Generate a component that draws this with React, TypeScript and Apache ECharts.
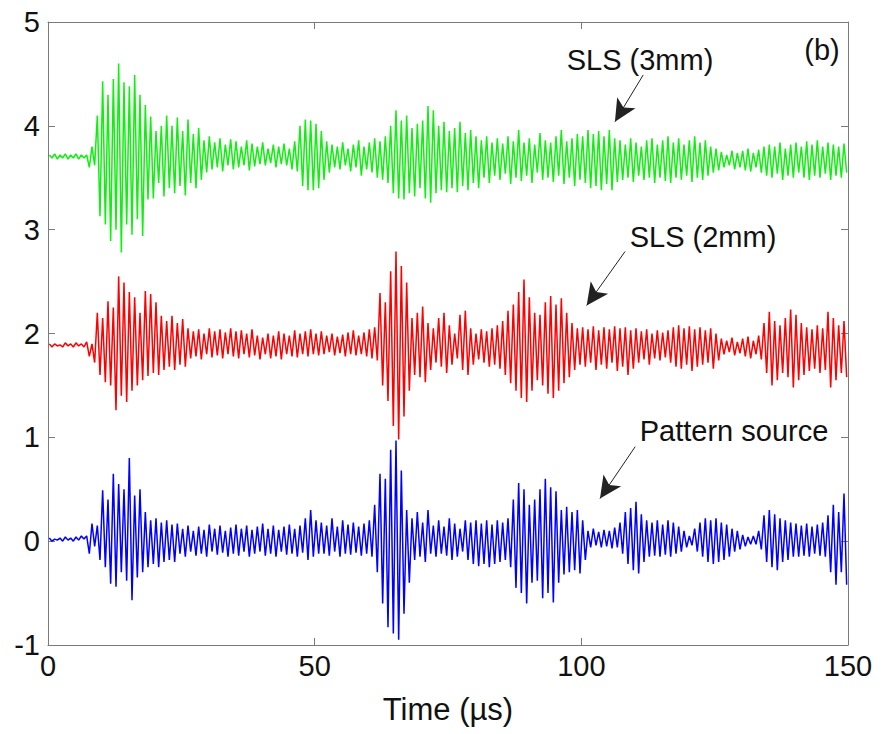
import React, { useEffect, useRef } from "react";
import * as echarts from "echarts";

// Time axis: one oscillation per microsecond, t = 0 .. 149
// Upper and lower peak values for each microsecond.
const greenHi = [
  3.72, 3.73, 3.72, 3.73, 3.72, 3.73, 3.72, 3.72, 3.80, 4.10,
  4.43, 4.30, 4.45, 4.60, 4.42, 4.38, 4.49, 4.30, 4.20, 4.09,
  3.95, 4.00, 4.10, 4.00, 4.08, 3.95, 4.06, 3.92, 3.98, 3.86,
  3.90, 3.84, 3.88, 3.82, 3.87, 3.85, 3.80, 3.86, 3.83, 3.80,
  3.84, 3.78, 3.82, 3.80, 3.83, 3.78, 3.85, 4.00, 4.06, 4.05,
  4.02, 3.95, 3.85, 3.82, 3.80, 3.84, 3.78, 3.82, 3.86, 3.80,
  3.84, 3.88, 3.85, 3.90, 4.00, 4.15, 4.05, 4.10, 3.98, 4.02,
  4.05, 4.19, 4.15, 4.00, 4.04, 3.95, 3.98, 4.04, 3.93, 3.96,
  3.90, 3.86, 3.90, 3.84, 3.88, 3.83, 3.90, 3.85, 3.96, 3.84,
  3.88, 3.82, 3.93, 3.86, 3.84, 3.90, 3.96, 3.85, 3.88, 3.92,
  3.90, 3.96, 3.92, 3.95, 3.90, 3.96, 3.88, 3.86, 3.82, 3.88,
  3.84, 3.80, 3.86, 3.88, 3.82, 3.86, 3.90, 3.84, 3.88, 3.82,
  3.86, 3.90, 3.84, 3.86, 3.80, 3.78, 3.75, 3.72, 3.76, 3.74,
  3.76, 3.78, 3.74, 3.77, 3.80, 3.82, 3.80, 3.84, 3.78, 3.82,
  3.84, 3.80, 3.85, 3.82, 3.86, 3.80, 3.84, 3.82, 3.80, 3.83,
];
const greenLo = [
  3.69, 3.68, 3.69, 3.68, 3.69, 3.68, 3.69, 3.60, 3.62, 3.13,
  3.05, 2.89, 3.00, 2.78, 3.05, 2.95, 3.10, 2.94, 3.29, 3.30,
  3.45, 3.32, 3.40, 3.35, 3.42, 3.33, 3.45, 3.40, 3.48, 3.55,
  3.58, 3.60, 3.56, 3.62, 3.58, 3.60, 3.62, 3.57, 3.61, 3.63,
  3.62, 3.64, 3.60, 3.63, 3.62, 3.58, 3.56, 3.42, 3.38, 3.38,
  3.40, 3.48, 3.55, 3.60, 3.58, 3.62, 3.56, 3.60, 3.52, 3.58,
  3.55, 3.50, 3.48, 3.45, 3.35, 3.30, 3.29, 3.35, 3.32, 3.40,
  3.30, 3.26, 3.35, 3.38, 3.36, 3.40, 3.36, 3.42, 3.38, 3.45,
  3.40, 3.50, 3.45, 3.52, 3.48, 3.54, 3.44, 3.50, 3.47, 3.52,
  3.45, 3.55, 3.48, 3.50, 3.46, 3.52, 3.44, 3.50, 3.42, 3.48,
  3.45, 3.40, 3.42, 3.38, 3.44, 3.38, 3.46, 3.48, 3.50, 3.46,
  3.52, 3.48, 3.50, 3.45, 3.50, 3.47, 3.45, 3.50, 3.48, 3.52,
  3.46, 3.50, 3.48, 3.52, 3.55, 3.57, 3.60, 3.62, 3.58, 3.60,
  3.57, 3.56, 3.60, 3.55, 3.52, 3.50, 3.54, 3.48, 3.52, 3.50,
  3.55, 3.50, 3.48, 3.52, 3.50, 3.54, 3.48, 3.52, 3.50, 3.55,
];
const redHi = [
  1.90, 1.90, 1.89, 1.91, 1.90, 1.91, 1.90, 1.92, 1.90, 2.20,
  2.15, 2.31, 2.25, 2.55, 2.49, 2.40, 2.35, 2.20, 2.41, 2.38,
  2.30, 2.17, 2.12, 2.17, 2.10, 2.14, 2.05, 2.02, 2.04, 2.00,
  2.05, 2.02, 2.04, 2.01, 2.05, 2.02, 2.03, 2.00, 2.04, 1.98,
  1.96, 2.00, 1.98, 2.02, 2.00, 1.98, 2.03, 2.00, 2.02, 2.04,
  2.00, 2.02, 1.98, 2.00, 1.97, 1.99, 2.01, 2.03, 1.98, 2.01,
  2.04, 2.06, 2.39, 2.30, 2.60, 2.79, 2.65, 2.49, 2.15, 2.20,
  2.26, 2.10, 2.05, 2.15, 2.20, 2.08, 2.00, 2.18, 2.22, 2.05,
  2.00, 2.04, 2.02, 2.05, 2.08, 2.12, 2.22, 2.28, 2.40, 2.52,
  2.35, 2.20, 2.18, 2.30, 2.36, 2.28, 2.34, 2.20, 2.10, 2.05,
  2.06, 2.04, 2.07, 2.03, 2.06, 2.04, 2.07, 2.05, 2.06, 2.03,
  2.05, 2.02, 2.04, 2.00, 2.03, 2.01, 2.03, 2.06, 2.08, 2.05,
  2.07, 2.04, 2.06, 2.03, 2.05, 2.00, 1.95, 1.93, 1.96, 1.92,
  1.95, 1.97, 1.93, 1.98, 2.10, 2.21, 2.12, 2.08, 2.15, 2.23,
  2.18, 2.10, 2.06, 2.04, 2.08, 2.05, 2.21, 2.15, 2.08, 2.12,
];
const redLo = [
  1.87, 1.88, 1.87, 1.88, 1.87, 1.88, 1.87, 1.78, 1.72, 1.60,
  1.53, 1.50, 1.26, 1.40, 1.34, 1.45, 1.50, 1.55, 1.59, 1.62,
  1.60, 1.65, 1.68, 1.65, 1.70, 1.68, 1.76, 1.78, 1.75, 1.80,
  1.77, 1.79, 1.76, 1.80, 1.78, 1.76, 1.80, 1.77, 1.79, 1.75,
  1.80, 1.76, 1.78, 1.75, 1.80, 1.78, 1.77, 1.80, 1.78, 1.80,
  1.79, 1.80, 1.82, 1.79, 1.81, 1.78, 1.80, 1.79, 1.80, 1.78,
  1.76, 1.74, 1.50, 1.35, 1.11, 0.98, 1.20, 1.45, 1.60, 1.58,
  1.53, 1.65, 1.72, 1.68, 1.62, 1.70, 1.76, 1.65, 1.60, 1.70,
  1.75, 1.72, 1.68, 1.70, 1.66, 1.60, 1.52, 1.45, 1.38, 1.34,
  1.45, 1.55, 1.50, 1.42, 1.38, 1.45, 1.52, 1.58, 1.65, 1.70,
  1.68, 1.72, 1.65, 1.70, 1.66, 1.72, 1.64, 1.68, 1.60, 1.66,
  1.72, 1.75, 1.70, 1.76, 1.74, 1.77, 1.72, 1.68, 1.66, 1.70,
  1.64, 1.68, 1.70, 1.72, 1.66, 1.74, 1.80, 1.82, 1.79, 1.81,
  1.78, 1.76, 1.80, 1.75, 1.62, 1.50, 1.55, 1.62, 1.58, 1.48,
  1.55, 1.60, 1.64, 1.66, 1.62, 1.65, 1.48, 1.55, 1.62, 1.58,
];
const blueHi = [
  0.03, 0.02, 0.03, 0.04, 0.03, 0.04, 0.05, 0.05, 0.17, 0.15,
  0.49, 0.40, 0.65, 0.55, 0.50, 0.80, 0.44, 0.50, 0.28, 0.20,
  0.22, 0.18, 0.20, 0.16, 0.17, 0.12, 0.15, 0.10, 0.14, 0.11,
  0.16, 0.12, 0.15, 0.10, 0.13, 0.16, 0.12, 0.15, 0.11, 0.14,
  0.17, 0.12, 0.15, 0.11, 0.14, 0.16, 0.12, 0.15, 0.22, 0.30,
  0.20, 0.18, 0.15, 0.22, 0.14, 0.20, 0.16, 0.18, 0.14, 0.17,
  0.20, 0.35, 0.65, 0.60, 0.88, 0.97, 0.68, 0.30, 0.22, 0.28,
  0.18, 0.30, 0.15, 0.20, 0.14, 0.22, 0.17, 0.12, 0.20, 0.18,
  0.20, 0.17, 0.20, 0.16, 0.20, 0.18, 0.22, 0.40, 0.56, 0.50,
  0.35, 0.40, 0.50, 0.60, 0.52, 0.48, 0.30, 0.33, 0.28, 0.30,
  0.20, 0.10, 0.12, 0.09, 0.11, 0.10, 0.13, 0.18, 0.28, 0.32,
  0.38, 0.26, 0.20, 0.18, 0.20, 0.16, 0.20, 0.18, 0.14, 0.10,
  0.05, 0.12, 0.18, 0.22, 0.20, 0.22, 0.18, 0.16, 0.12, 0.10,
  0.06, 0.04, 0.05, 0.10, 0.25, 0.30, 0.26, 0.22, 0.20, 0.18,
  0.17, 0.15, 0.17, 0.14, 0.16, 0.18, 0.25, 0.35, 0.28, 0.46,
];
const blueLo = [
  0.00, 0.01, 0.00, 0.01, 0.00, 0.01, 0.02, -0.12, -0.05, -0.18,
  -0.25, -0.41, -0.44, -0.30, -0.38, -0.57, -0.35, -0.30, -0.25, -0.22,
  -0.25, -0.20, -0.18, -0.20, -0.12, -0.15, -0.10, -0.14, -0.12, -0.15,
  -0.10, -0.13, -0.11, -0.15, -0.12, -0.14, -0.10, -0.15, -0.12, -0.10,
  -0.14, -0.12, -0.15, -0.10, -0.13, -0.12, -0.15, -0.11, -0.18, -0.15,
  -0.12, -0.12, -0.14, -0.10, -0.15, -0.12, -0.13, -0.11, -0.14, -0.12,
  -0.15, -0.30, -0.60, -0.83, -0.89, -0.95, -0.70, -0.40, -0.18, -0.15,
  -0.20, -0.12, -0.15, -0.12, -0.14, -0.18, -0.15, -0.10, -0.18, -0.22,
  -0.24, -0.22, -0.25, -0.22, -0.20, -0.18, -0.25, -0.45, -0.50, -0.60,
  -0.40, -0.38, -0.55, -0.50, -0.59, -0.40, -0.32, -0.30, -0.28, -0.31,
  -0.18, -0.06, -0.04, -0.06, -0.05, -0.07, -0.06, -0.12, -0.22, -0.28,
  -0.31, -0.20, -0.15, -0.14, -0.15, -0.13, -0.15, -0.12, -0.10, -0.06,
  -0.04, -0.10, -0.15, -0.20, -0.22, -0.20, -0.18, -0.15, -0.10, -0.08,
  -0.05, -0.03, -0.03, -0.08, -0.20, -0.25, -0.28, -0.20, -0.18, -0.15,
  -0.15, -0.14, -0.15, -0.12, -0.14, -0.15, -0.30, -0.42, -0.30, -0.42,
];

// Annotation arrows in data coordinates: [tailX, tailY, tipX, tipY]
const arrows = [
  [111.6, 4.49, 106.3, 4.04],
  [108.2, 2.79, 101.0, 2.27],
  [110.1, 0.91, 103.5, 0.41],
];

const xTicksInterval = 50;
const yTicksInterval = 1;

const FONT = '"Liberation Sans", Arial, Helvetica, sans-serif';
const AXIS_COLOR = "#7a7a7a";

function zigzag(hi: number[], lo: number[]) {
  const d: number[][] = [];
  for (let i = 0; i < hi.length; i++) {
    d.push([i + 0.25, hi[i]]);
    d.push([i + 0.75, lo[i]]);
  }
  return d;
}

export default function App() {
  const ref = useRef<HTMLDivElement>(null);
  useEffect(() => {
    if (!ref.current) return;
    const chart = echarts.init(ref.current, undefined, { renderer: "svg" });
    const axisCommon = {
      type: "value" as const,
      axisLine: { show: true, onZero: false, lineStyle: { color: AXIS_COLOR, width: 1 } },
      axisTick: { show: true, inside: true, length: 7, lineStyle: { color: AXIS_COLOR } },
      splitLine: { show: false },
    };
    const labelStyle = { color: "#111", fontSize: 29, fontFamily: FONT };
    chart.setOption({
      animation: false,
      grid: { left: 48, right: 35, top: 22, bottom: 89 },
      xAxis: [
        {
          ...axisCommon,
          position: "bottom",
          min: 0,
          max: 150,
          interval: xTicksInterval,
          axisLabel: { ...labelStyle, margin: 6 },
          name: "Time (µs)",
          nameLocation: "middle",
          nameGap: 49,
          nameTextStyle: { ...labelStyle, fontSize: 31 },
        },
        {
          ...axisCommon,
          position: "top",
          min: 0,
          max: 150,
          interval: xTicksInterval,
          axisLabel: { show: false },
        },
      ],
      yAxis: [
        {
          ...axisCommon,
          position: "left",
          min: -1,
          max: 5,
          interval: yTicksInterval,
          axisLabel: { ...labelStyle, margin: 8 },
        },
        {
          ...axisCommon,
          position: "right",
          min: -1,
          max: 5,
          interval: yTicksInterval,
          axisLabel: { show: false },
        },
      ],
      series: [
        {
          type: "line",
          name: "SLS (3mm)",
          data: zigzag(greenHi, greenLo),
          showSymbol: false,
          symbol: "none",
          lineStyle: { color: "#10f010", width: 1.5 },
          itemStyle: { color: "#10f010" },
          markLine: {
            silent: true,
            symbol: ["none", "arrow"],
            symbolSize: [16, 22],
            label: { show: false },
            lineStyle: { color: "#222", width: 1, type: "solid" },
            itemStyle: { color: "#000" },
            data: arrows.map((a) => [
              { coord: [a[0], a[1]] },
              { coord: [a[2], a[3]] },
            ]),
          },
        },
        {
          type: "line",
          name: "SLS (2mm)",
          data: zigzag(redHi, redLo),
          showSymbol: false,
          symbol: "none",
          lineStyle: { color: "#ff0000", width: 1.5 },
          itemStyle: { color: "#ff0000" },
        },
        {
          type: "line",
          name: "Pattern source",
          data: zigzag(blueHi, blueLo),
          showSymbol: false,
          symbol: "none",
          lineStyle: { color: "#0000ff", width: 1.5 },
          itemStyle: { color: "#0000ff" },
        },
      ],
      graphic: [
        {
          type: "text",
          x: 640,
          y: 60,
          style: { text: "SLS (3mm)", font: `29px ${FONT}`, fill: "#111", align: "center", verticalAlign: "middle" },
        },
        {
          type: "text",
          x: 822,
          y: 50,
          style: { text: "(b)", font: `29px ${FONT}`, fill: "#111", align: "center", verticalAlign: "middle" },
        },
        {
          type: "text",
          x: 703,
          y: 237,
          style: { text: "SLS (2mm)", font: `29px ${FONT}`, fill: "#111", align: "center", verticalAlign: "middle" },
        },
        {
          type: "text",
          x: 734,
          y: 431,
          style: { text: "Pattern source", font: `29px ${FONT}`, fill: "#111", align: "center", verticalAlign: "middle" },
        },
      ],
    });
    return () => chart.dispose();
  }, []);
  return (
    <div
      ref={ref}
      style={{ position: "fixed", left: 0, top: 0, width: 883, height: 734, background: "#fff" }}
    />
  );
}
